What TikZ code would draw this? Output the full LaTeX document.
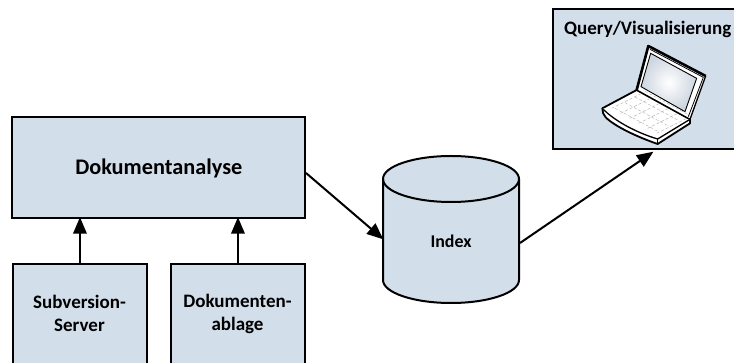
\documentclass[tikz,border=0pt]{standalone}
\usepackage{fontspec}
\setmainfont{Carlito}
\usetikzlibrary{arrows.meta,shapes.geometric}
\definecolor{fillblue}{HTML}{D3DEEB}
\tikzset{
  x=1pt,y=-1pt,
  boxstyle/.style={draw=black,line width=2pt,fill=fillblue,inner sep=0pt,outer sep=0pt,align=center},
  bigtext/.style={font=\bfseries\fontsize{22.3}{26}\selectfont},
  midtext/.style={font=\bfseries\fontsize{19}{23}\selectfont,align=center,inner sep=0pt},
  conn/.style={draw=black,line width=2pt,-{Triangle[length=16.5pt,width=13.5pt]},shorten >=-0.5pt},
  lap/.style={draw=black,line width=1.3pt,line join=round},
  keyline/.style={draw=gray!60,line width=0.4pt,densely dashed},
}
\begin{document}
\begin{tikzpicture}
\useasboundingbox (0,0) rectangle (734,363);
\clip (0,0) rectangle (734,363);
\node[boxstyle,minimum width=292.5pt,minimum height=101pt] (ana) at (158.5,167.2) {};
\node[bigtext,inner sep=0pt] (anatext) at (158.8,168) {Dokumentanalyse};
\node[boxstyle,minimum width=134.5pt,minimum height=110pt,anchor=north west] (svn) at (12.7,263.7) {};
\node[boxstyle,minimum width=134.5pt,minimum height=110pt,anchor=north west] (ablage) at (170.7,263.7) {};
\node[midtext] (svntext) at (79.5,313.5) {Subversion-\\Server};
\node[midtext] (abltext) at (237.5,313.5) {Dokumenten-\\ablage};
\node[boxstyle,minimum width=200pt,minimum height=140.5pt,anchor=north west] (query) at (552.5,9) {};
\node[midtext,anchor=west] (qtext) at (564,29) {Query/Visualisierung};
% cylinder
\path[fill=fillblue,draw=black,line width=2pt] (383,179) arc[start angle=180,end angle=0,x radius=68,y radius=-23] -- (519,280) arc[start angle=0,end angle=-180,x radius=68,y radius=-23] -- cycle;
\draw[line width=2pt] (383,179) arc[start angle=180,end angle=360,x radius=68,y radius=-23];
\node[font=\bfseries\fontsize{17.9}{21}\selectfont,inner sep=0pt] (index) at (451,241) {Index};
\coordinate (ixin) at (383,239);
\coordinate (ixout) at (520,243);
\coordinate (anaout) at (306,173);
\coordinate (qin) at (653,152);
\draw[conn] (svn.north) -- (svn.north |- ana.south);
\draw[conn] (ablage.north) -- (ablage.north |- ana.south);
\draw[conn] (anaout) -- (ixin);
\draw[conn] (ixout) -- (qin);
% laptop
\begin{scope}[shift={(595,40)},x=0.3333pt,y=-0.3333pt]
\path[lap,fill=white,line width=1.8pt] (22,205) -- (125,150) -- (285,238) -- (285,250) -- (188,312) .. controls (130,292) and (60,260) .. (32,232) .. controls (25,225) and (22,215) .. (22,205) -- cycle;
\path[lap,fill=white] (22,205) .. controls (60,245) and (130,280) .. (188,297) -- (285,238);
\draw[lap] (188,297) -- (188,312);
\path[lap,fill=white] (125,150) -- (160,18) -- (332,108) -- (285,238) -- cycle;
\draw[line width=2.6pt,line join=round] (125,150) -- (160,18) -- (332,108);
\draw[lap,line width=0.8pt] (165,28) -- (325,112) -- (280,230);
\shade[inner color=white,outer color=fillblue!85!gray!90,draw=black,line width=0.9pt] (138,140) -- (167,40) -- (305,115) -- (270,215) -- cycle;
\foreach \i in {0,1,2,3}{
  \draw[keyline] (60+30*\i,205-17*\i) -- (190+30*\i,275-17*\i);
}
\foreach \j in {0,1,2,3,4,5}{
  \draw[keyline] (50+27*\j,205+15*\j) -- (140+27*\j,160+15*\j);
}
\end{scope}
\end{tikzpicture}
\end{document}
